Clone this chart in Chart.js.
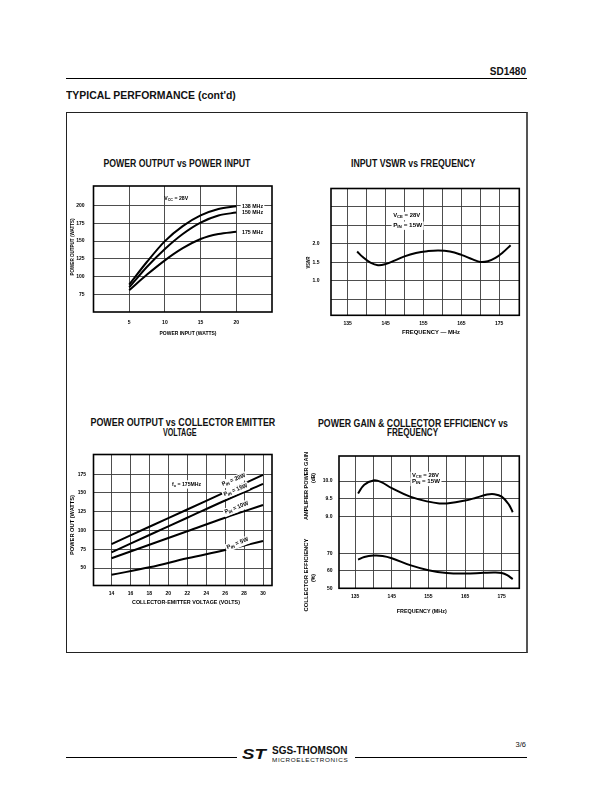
<!DOCTYPE html>
<html><head><meta charset="utf-8">
<script src="https://cdn.jsdelivr.net/npm/chart.js@4/dist/chart.umd.min.js"></script>
<style>
html,body{margin:0;padding:0;background:#fff;}
#page{position:relative;width:612px;height:792px;overflow:hidden;font-family:"Liberation Sans",Arial,Helvetica,sans-serif;color:#111;}
.abs{position:absolute;white-space:nowrap;}
canvas{position:absolute;}
.b{font-weight:bold;}
</style></head>
<body><div id="page">
<div class="abs b" style="right:86px;top:67px;font-size:10px;line-height:10px;">SD1480</div>
<div class="abs" style="left:66px;top:78px;width:461px;border-top:1.3px solid #000;"></div>
<div class="abs b fit" data-x="66" data-y="96.3" data-w="170" data-a="left" style="font-size:10px;line-height:10px;">TYPICAL PERFORMANCE (cont'd)</div>
<div class="abs" style="left:66px;top:112px;width:459px;height:539px;border:1px solid #222;border-right:2px solid #555;"></div>

<div class="abs b fit" data-x="176.7" data-y="163" data-w="147" style="font-size:11px;line-height:11px;">POWER OUTPUT vs POWER INPUT</div>
<div class="abs b fit" data-x="412.5" data-y="163.3" data-w="124" style="font-size:11px;line-height:11px;">INPUT VSWR vs FREQUENCY</div>
<div class="abs b fit" data-x="182.5" data-y="422.7" data-w="185" style="font-size:11px;line-height:11px;">POWER OUTPUT vs COLLECTOR EMITTER</div>
<div class="abs b fit" data-x="180" data-y="432.7" data-w="34" style="font-size:11px;line-height:11px;">VOLTAGE</div>
<div class="abs b fit" data-x="413.3" data-y="423.3" data-w="190" style="font-size:11px;line-height:11px;">POWER GAIN &amp; COLLECTOR EFFICIENCY vs</div>
<div class="abs b fit" data-x="412.7" data-y="432.7" data-w="51" style="font-size:11px;line-height:11px;">FREQUENCY</div>

<canvas id="c1"></canvas>
<canvas id="c2"></canvas>
<canvas id="c3"></canvas>
<canvas id="c4"></canvas>

<div class="abs" style="left:66px;top:757px;width:171px;border-top:1px solid #000;"></div>
<div class="abs" style="left:355px;top:757px;width:172px;border-top:1px solid #000;"></div>
<div class="abs b fit" data-x="242" data-y="754" data-w="24" data-a="left" style="font-size:14px;line-height:14px;font-style:italic;">ST</div>
<div class="abs b fit" data-x="272" data-y="751" data-w="76" data-a="left" style="font-size:10px;line-height:10px;">SGS-THOMSON</div>
<div class="abs fit" data-x="272" data-y="760" data-w="76" data-a="left" style="font-size:5px;line-height:5px;letter-spacing:0.5px;">MICROELECTRONICS</div>
<div class="abs" style="right:86px;top:741px;font-size:7.5px;line-height:8px;">3/6</div>
</div>
<script>
// ================= DATA =================
// Chart 1: Power output vs power input (Vcc = 28V)
const pinWatts   = [5, 7.5, 10, 12.5, 15, 17.5, 20];
const pout138MHz = [89, 121, 150, 171, 186, 195, 199];
const pout150MHz = [85, 114, 139, 160, 176, 186, 190];
const pout175MHz = [81, 103, 123, 140, 153, 160, 163];
const c1XTicks = [5, 10, 15, 20];
const c1YTicks = [75, 100, 125, 150, 175, 200];

// Chart 2: Input VSWR vs frequency
const vswrFreq = [137.5, 139, 141, 143, 145, 147.5, 150, 153, 156, 159, 162, 165, 168, 170, 172, 174, 176, 178];
const vswrVal  = [1.79, 1.64, 1.49, 1.42, 1.45, 1.55, 1.66, 1.75, 1.80, 1.82, 1.79, 1.70, 1.58, 1.51, 1.53, 1.62, 1.77, 1.96];
const freqGrid   = [135, 140, 145, 150, 155, 160, 165, 170, 175];
const freqLabels = [135, 145, 155, 165, 175];
const vswrGrid   = [0.5, 1.0, 1.5, 2.0, 2.5, 3.0];
const vswrLabels = [1.0, 1.5, 2.0];

// Chart 3: Power output vs collector-emitter voltage (f = 175 MHz)
const vceVolts  = [14, 18, 22, 26, 30];
const poutPin20 = [82, 105, 128, 151, 174];
const poutPin15 = [71, 94, 117, 140, 162];
const poutPin10 = [63, 81, 99, 117, 134];
const poutPin5  = [41, 51, 63, 74, 86];
const c3XTicks = [14, 16, 18, 20, 22, 24, 26, 28, 30];
const c3YTicks = [50, 75, 100, 125, 150, 175];

// Chart 4: Power gain & collector efficiency vs frequency
const gainFreq = [135.8, 137.5, 140, 142, 145, 150, 155, 158, 160, 165, 168, 171, 173, 175, 177, 178];
const gainDb   = [9.65, 9.9, 10.02, 9.98, 9.8, 9.56, 9.42, 9.37, 9.37, 9.45, 9.53, 9.62, 9.63, 9.56, 9.33, 9.12];
const effFreq  = [135.8, 137.5, 140, 142.5, 145, 150, 155, 160, 165, 170, 173, 175, 176.5, 178];
const effPct   = [66.5, 68, 68.8, 68.6, 67.3, 63.3, 60.4, 58.8, 58.5, 58.9, 59.1, 58.8, 57.5, 55.3];
const gainTicks = [9.0, 9.5, 10.0];
const effTicks  = [50, 60, 70];

// ================= HELPERS =================
const FONT = '"Liberation Sans", Arial, Helvetica, sans-serif';
const TICK_SIZE = 5;
document.querySelectorAll('.fit').forEach(el => {
  const w = el.offsetWidth, h = el.offsetHeight;
  const k = parseFloat(el.dataset.w) / w;
  const x = parseFloat(el.dataset.x), y = parseFloat(el.dataset.y);
  el.style.top = (y - h / 2) + 'px';
  if (el.dataset.a === 'left') {
    el.style.left = x + 'px';
    el.style.transformOrigin = '0 50%';
  } else {
    el.style.left = (x - w / 2) + 'px';
    el.style.transformOrigin = '50% 50%';
  }
  el.style.transform = 'scaleX(' + k + ')';
});

function parseRich(s) {
  const out = []; const re = /_\{([^}]*)\}/g; let last = 0, m;
  while ((m = re.exec(s))) {
    if (m.index > last) out.push({t: s.slice(last, m.index), sub: false});
    out.push({t: m[1], sub: true}); last = re.lastIndex;
  }
  if (last < s.length) out.push({t: s.slice(last), sub: false});
  return out;
}
function drawRich(ctx, it, x, y) {
  const segs = parseRich(it.t);
  const size = it.size || 6, subSize = size * 0.72;
  const fontOf = sub => 'bold ' + (sub ? subSize : size) + 'px ' + FONT;
  let total = 0;
  segs.forEach(sg => { ctx.font = fontOf(sg.sub); sg.w = ctx.measureText(sg.t).width; total += sg.w; });
  const sx = it.w ? it.w / total : 0.85;
  ctx.save();
  ctx.translate(x, y);
  if (it.rot) ctx.rotate(it.rot * Math.PI / 180);
  ctx.scale(sx, 1);
  let x0 = it.align === 'left' ? 0 : (it.align === 'right' ? -total : -total / 2);
  if (it.bg) { ctx.fillStyle = '#fff'; ctx.fillRect(x0 - 1.5, -size * 0.62, total + 3, size * 1.4); }
  ctx.fillStyle = '#000'; ctx.textBaseline = 'middle'; ctx.textAlign = 'left';
  segs.forEach(sg => { ctx.font = fontOf(sg.sub); ctx.fillText(sg.t, x0, sg.sub ? size * 0.28 : 0); x0 += sg.w; });
  ctx.restore();
}
const framePlugin = {
  id: 'frameBox',
  afterDatasetsDraw(chart) {
    const a = chart.chartArea, ctx = chart.ctx;
    ctx.save(); ctx.strokeStyle = '#000'; ctx.lineWidth = 1.6;
    ctx.strokeRect(a.left, a.top, a.right - a.left, a.bottom - a.top);
    ctx.restore();
  }
};
function makeAnnot(items, L) {
  return {
    id: 'annot',
    afterDraw(chart) {
      const ctx = chart.ctx;
      items.forEach(it => {
        let px, py;
        if (it.ref === 'data') {
          px = chart.scales.x.getPixelForValue(it.x);
          py = chart.scales[it.axis || 'y'].getPixelForValue(it.y);
        } else { px = it.x - L.cx; py = it.y - L.cy; }
        drawRich(ctx, it, px, py);
      });
    }
  };
}
const near = (arr, v) => arr.some(a => Math.abs(a - v) < 1e-6);
function axis(L, horiz, min, max, grid, labels, fmt, pad) {
  return {
    type: 'linear', min, max,
    afterBuildTicks: s => { s.ticks = grid.map(v => ({value: v})); },
    afterFit: s => { if (horiz) s.height = L.cy + L.ch - L.b; else s.width = L.l - L.cx; },
    grid: {color: '#3a3a3a', lineWidth: 0.9, drawTicks: false},
    border: {display: false},
    ticks: {padding: pad, color: '#000', autoSkip: false, maxRotation: 0, minRotation: 0,
      font: {family: FONT, size: TICK_SIZE, weight: 'bold'},
      callback: v => near(labels, v) ? fmt(v) : ''}
  };
}
function line(xs, ys, extra) {
  return Object.assign({data: xs.map((x, i) => ({x, y: ys[i]})), borderColor: '#000', borderWidth: 2,
    pointRadius: 0, fill: false, tension: 0.4}, extra || {});
}
function build(id, L, datasets, scales, annots) {
  const cv = document.getElementById(id);
  cv.width = L.cw; cv.height = L.ch;
  cv.style.left = L.cx + 'px'; cv.style.top = L.cy + 'px';
  cv.style.width = L.cw + 'px'; cv.style.height = L.ch + 'px';
  return new Chart(cv, {
    type: 'line', data: {datasets},
    options: {responsive: false, animation: false, devicePixelRatio: 1,
      layout: {padding: {left: 0, top: L.t - L.cy, right: L.cx + L.cw - L.r, bottom: 0}},
      plugins: {legend: {display: false}, tooltip: {enabled: false}, title: {display: false}},
      scales},
    plugins: [framePlugin, makeAnnot(annots, L)]
  });
}
const int = v => String(Math.round(v));
const one = v => v.toFixed(1);

// ================= CHART 1 =================
const L1 = {cx: 66, cy: 174, cw: 216, ch: 166, l: 93.5, t: 184, r: 272, b: 312};
build('c1', L1, [
  line(pinWatts, pout138MHz, {cubicInterpolationMode: 'monotone'}),
  line(pinWatts, pout150MHz, {cubicInterpolationMode: 'monotone'}),
  line(pinWatts, pout175MHz, {cubicInterpolationMode: 'monotone'})
], {
  x: axis(L1, true, 0, 25, c1XTicks, c1XTicks, int, 7.5),
  y: axis(L1, false, 50.5, 227.3, c1YTicks, c1YTicks, int, 9)
}, [
  {t: 'V_{CC} = 28V', ref: 'data', x: 9.9, y: 210.6, align: 'left', w: 24},
  {t: '138 MHz', ref: 'data', x: 20.8, y: 199.2, align: 'left', w: 21, bg: true},
  {t: '150 MHz', ref: 'data', x: 20.8, y: 191.0, align: 'left', w: 21, bg: true},
  {t: '175 MHz', ref: 'data', x: 20.8, y: 162.5, align: 'left', w: 21, bg: true},
  {t: 'POWER OUTPUT (WATTS)', ref: 'page', x: 72.5, y: 247, rot: -90, w: 57, size: 5.5},
  {t: 'POWER INPUT (WATTS)', ref: 'page', x: 188, y: 333.3, w: 57, size: 5.8}
]);

// ================= CHART 2 =================
const L2 = {cx: 300, cy: 174, cw: 226, ch: 166, l: 331, t: 184, r: 519.3, b: 315.3};
build('c2', L2, [line(vswrFreq, vswrVal)], {
  x: axis(L2, true, 130.6, 180.3, freqGrid, freqLabels, int, 5),
  y: axis(L2, false, 0.07, 3.49, vswrGrid, vswrLabels, one, 11.5)
}, [
  {t: 'V_{CE} = 28V', ref: 'data', x: 147, y: 2.76, align: 'left', w: 27, bg: true},
  {t: 'P_{IN} = 15W', ref: 'data', x: 147, y: 2.5, align: 'left', w: 29, bg: true},
  {t: 'VSWR', ref: 'page', x: 308, y: 262.5, rot: -90, w: 12, size: 5.5},
  {t: 'FREQUENCY \u2014 MHz', ref: 'page', x: 431, y: 332.7, w: 58, size: 5.8}
]);

// ================= CHART 3 =================
const L3 = {cx: 66, cy: 444, cw: 216, ch: 166, l: 93.5, t: 452.5, r: 272, b: 585.5};
build('c3', L3, [
  line(vceVolts, poutPin20), line(vceVolts, poutPin15), line(vceVolts, poutPin10), line(vceVolts, poutPin5)
], {
  x: axis(L3, true, 12.1, 30.95, c3XTicks, c3XTicks, int, 5),
  y: axis(L3, false, 26.8, 201.2, c3YTicks, c3YTicks, int, 7.5)
}, [
  {t: 'f_{o} = 175MHz', ref: 'data', x: 20.4, y: 162, align: 'left', w: 29, bg: true},
  {t: 'P_{IN} = 20W', ref: 'data', x: 26.9, y: 167.5, rot: -22, w: 25, bg: true},
  {t: 'P_{IN} = 15W', ref: 'data', x: 27.1, y: 154, rot: -22, w: 25, bg: true},
  {t: 'P_{IN} = 10W', ref: 'data', x: 27.2, y: 130.5, rot: -22, w: 25, bg: true},
  {t: 'P_{IN} = 5W', ref: 'data', x: 27.3, y: 83, rot: -22, w: 23, bg: true},
  {t: 'POWER OUT (WATTS)', ref: 'page', x: 72, y: 525, rot: -90, w: 60, size: 5.5},
  {t: 'COLLECTOR-EMITTER VOLTAGE (VOLTS)', ref: 'page', x: 186, y: 602.7, w: 108, size: 5.8}
]);

// ================= CHART 4 =================
const L4 = {cx: 300, cy: 446, cw: 226, ch: 172, l: 339, t: 456, r: 519.3, b: 588.3};
const y4 = axis(L4, false, 6.97, 10.71, gainTicks, gainTicks, one, 6.5);
y4.weight = 1;
// efficiency axis: zero-width, closest to the plot, labels mirrored back out to the left
const mctx = document.createElement('canvas').getContext('2d');
mctx.font = 'bold ' + TICK_SIZE + 'px ' + FONT;
const effLabelW = mctx.measureText('70').width;
const yEff = axis(L4, false, 50, 126, effTicks, effTicks, int, -(6.5 + effLabelW));
yEff.weight = 0;
yEff.ticks.mirror = true;
yEff.afterFit = s => { s.width = 0; };
build('c4', L4, [
  line(gainFreq, gainDb),
  line(effFreq, effPct, {yAxisID: 'yEff'})
], {
  x: axis(L4, true, 130.6, 179.8, freqGrid, freqLabels, int, 5.4),
  y: y4,
  yEff: yEff
}, [
  {t: 'V_{CE} = 28V', ref: 'data', x: 150.5, y: 10.16, align: 'left', w: 27, bg: true},
  {t: 'P_{IN} = 15W', ref: 'data', x: 150.5, y: 9.99, align: 'left', w: 28, bg: true},
  {t: 'AMPLIFIER POWER GAIN', ref: 'page', x: 306.7, y: 486, rot: -90, w: 68, size: 5.8},
  {t: '(dB)', ref: 'page', x: 313.3, y: 478, rot: -90, w: 10, size: 5.8},
  {t: 'COLLECTOR EFFICIENCY', ref: 'page', x: 306.7, y: 575, rot: -90, w: 73, size: 5.8},
  {t: '(%)', ref: 'page', x: 313.3, y: 578, rot: -90, w: 8, size: 5.8},
  {t: 'FREQUENCY (MHz)', ref: 'page', x: 421.7, y: 611.7, w: 50, size: 5.8}
]);
</script>
</body></html>
